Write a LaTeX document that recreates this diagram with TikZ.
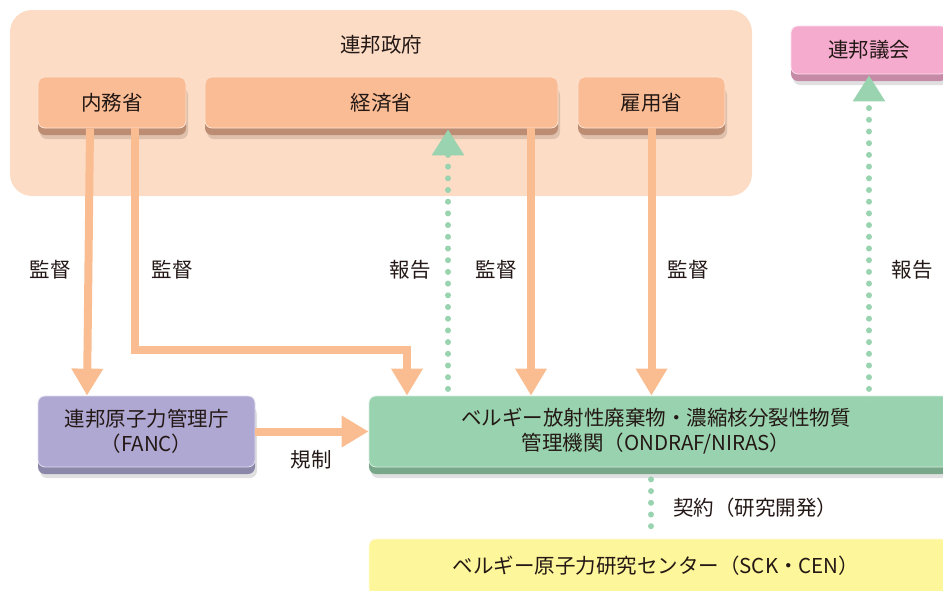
\documentclass[tikz,border=0pt]{standalone}
\usepackage{fontspec}
\setmainfont{Noto Sans CJK JP}
\usetikzlibrary{arrows.meta,shadows}
\definecolor{govbg}{HTML}{FDDCC6}
\definecolor{minfill}{HTML}{F9BC94}
\definecolor{minshad}{HTML}{BC8D72}
\definecolor{pinkfill}{HTML}{F4ABCE}
\definecolor{pinkshad}{HTML}{C48AA6}
\definecolor{purpfill}{HTML}{AFA8D3}
\definecolor{purpshad}{HTML}{8B87A8}
\definecolor{grnfill}{HTML}{99D2AE}
\definecolor{grnshad}{HTML}{78A889}
\definecolor{yelfill}{HTML}{FEF69A}
\definecolor{yelshad}{HTML}{C9C27A}
\definecolor{oarr}{HTML}{FABD92}
\definecolor{garr}{HTML}{99D3AF}
\definecolor{txt}{HTML}{231815}
\tikzset{
  txtstyle/.style={text=txt,font=\fontsize{20.5}{25}\selectfont},
  box/.style={txtstyle,rectangle,rounded corners=7pt,inner sep=0pt,align=center,
    draw=white!60!#1,line width=0.8pt,fill=#1},
  boxshad/.style={drop shadow={shadow xshift=2pt,shadow yshift=-11pt,fill=black,opacity=0.12},
    drop shadow={shadow xshift=0pt,shadow yshift=-7pt,fill=#1,opacity=1}},
  lbl/.style={txtstyle,inner sep=0pt},
  oarrow/.style={draw=oarr,line width=8pt,-{Triangle[width=30pt,length=27pt]}},
  gdots/.style={draw=garr,line width=6pt,line cap=round,dash pattern=on 0pt off 11.7pt},
  garrow/.style={gdots,-{Triangle[width=31pt,length=26pt,line cap=butt]}},
}
\begin{document}
\begin{tikzpicture}[x=1pt,y=-1pt]
\useasboundingbox (0,0) rectangle (943,590);
\clip (0,0) rectangle (943,590);
% government
\node[fill=govbg,rounded corners=22pt,minimum width=742pt,minimum height=186pt,inner sep=0pt] (gov) at (381,103) {};
\node[lbl] (govt) at (381,45) {連邦政府};
\node[box=minfill,boxshad=minshad,minimum width=148pt,minimum height=51pt] (naimu) at (112,102.5) {内務省};
\node[box=minfill,boxshad=minshad,minimum width=353pt,minimum height=51pt] (keizai) at (381.5,102.5) {経済省};
\node[box=minfill,boxshad=minshad,minimum width=147pt,minimum height=51pt] (koyo) at (651.5,102.5) {雇用省};
\node[box=pinkfill,boxshad=pinkshad,minimum width=156pt,minimum height=48pt] (gikai) at (869,50) {連邦議会};
\node[box=purpfill,boxshad=purpshad,minimum width=217pt,minimum height=71pt] (fanc) at (146.5,431.5) {連邦原子力管理庁\\（FANC）};
\node[box=grnfill,boxshad=grnshad,minimum width=580pt,minimum height=71pt] (ondraf) at (659,431.5) {};
\node[lbl,align=center] (ondraft) at (656,431.5) {ベルギー放射性廃棄物・濃縮核分裂性物質\\管理機関（ONDRAF/NIRAS）};
\node[box=yelfill,boxshad=yelshad,minimum width=580pt,minimum height=56pt] (sck) at (659,567) {};
\node[lbl] (sckt) at (656,566) {ベルギー原子力研究センター（SCK・CEN）};
% arrows
\draw[oarrow] ([xshift=-22pt]naimu.south) -- ([xshift=-59.5pt]fanc.north);
\draw[oarrow] ([xshift=23pt]naimu.south) |- ([xshift=-252pt,yshift=46pt]ondraf.north) -- ([xshift=-252pt]ondraf.north);
\draw[oarrow] ([xshift=149.5pt]keizai.south) -- ([xshift=-128pt]ondraf.north);
\draw[oarrow] (koyo.south) -- ([xshift=-7.5pt]ondraf.north);
\draw[oarrow] (fanc.east) -- (ondraf.west);
\draw[garrow] ([xshift=-211pt,yshift=-5pt]ondraf.north) -- ([xshift=66.5pt,yshift=-1pt]keizai.south);
\draw[garrow] ([xshift=210pt,yshift=-5pt]ondraf.north) -- ([yshift=-1pt]gikai.south);
\draw[gdots] ([xshift=-8pt,yshift=-12pt]ondraf.south) -- ([xshift=-8pt,yshift=4pt]sck.north);
% labels
\node[lbl] (l1) at (50,270) {監督};
\node[lbl] (l2) at (172,270) {監督};
\node[lbl] (l3) at (410,270) {報告};
\node[lbl] (l4) at (496,270) {監督};
\node[lbl] (l5) at (688,270) {監督};
\node[lbl] (l6) at (912,270) {報告};
\node[lbl] (l7) at (311,460) {規制};
\node[lbl,anchor=west] (l8) at (673,508) {契約（研究開発）};
\end{tikzpicture}
\end{document}
